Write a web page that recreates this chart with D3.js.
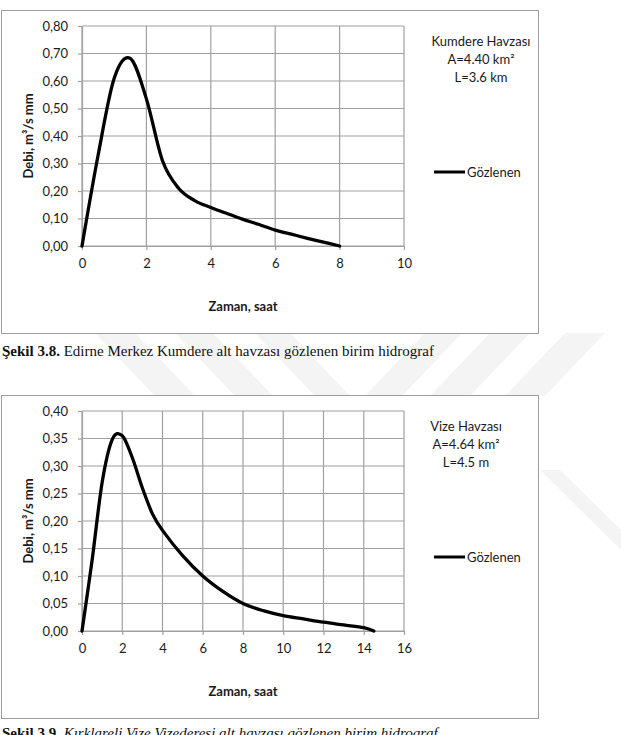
<!DOCTYPE html>
<html>
<head>
<meta charset="utf-8">
<script src="https://cdn.jsdelivr.net/npm/d3@7"></script>
<style>
  body { margin: 0; background: #fff; }
  svg { display: block; }
</style>
</head>
<body>
<div id="container"></div>
<script>
const WIDTH = 621;
const HEIGHT = 735;
const GRID = "#a0a0a0";
const SANS = "Lato, 'Noto Sans', sans-serif";
const SERIF = "'Liberation Serif', 'DejaVu Serif', serif";

// Kumdere
var kumTime = [0, 0.5, 1, 1.5, 2, 2.5, 3, 3.5, 4, 4.5, 5, 5.5, 6, 6.5, 7, 7.5, 8];
var kumQ = [0, 0.33, 0.61, 0.682, 0.535, 0.31, 0.21, 0.165, 0.14, 0.118, 0.097, 0.078, 0.058, 0.043, 0.028, 0.014, 0];
var kumXTicks = [0, 2, 4, 6, 8, 10];
var kumYTicks = [0, 0.1, 0.2, 0.3, 0.4, 0.5, 0.6, 0.7, 0.8];
var kumNote = ["Kumdere Havzası", "A=4.40 km²", "L=3.6 km"];

// Vize
var vizeTime = [0, 0.5, 1, 1.5, 2, 2.5, 3, 3.5, 4, 5, 6, 7, 8, 9, 10, 11, 12, 13, 14, 14.5];
var vizeQ = [0, 0.128, 0.27, 0.348, 0.355, 0.315, 0.26, 0.213, 0.183, 0.137, 0.10, 0.072, 0.05, 0.037, 0.028, 0.022, 0.016, 0.011, 0.006, 0];
var vizeXTicks = [0, 2, 4, 6, 8, 10, 12, 14, 16];
var vizeYTicks = [0, 0.05, 0.1, 0.15, 0.2, 0.25, 0.3, 0.35, 0.4];
var vizeNote = ["Vize Havzası", "A=4.64 km²", "L=4.5 m"];

var seriesName = "Gözlenen";
var xTitle = "Zaman, saat";
var yTitle = "Debi, m³/s mm";
var captions = [
    {bold: "Şekil 3.8.", text: " Edirne Merkez Kumdere alt havzası gözlenen birim hidrograf", italic: false},
    {bold: "Şekil 3.9.", text: " Kırklareli Vize Vizederesi alt havzası gözlenen birim hidrograf", italic: true}
];

var trFormat = d3.formatLocale({decimal: ",", thousands: ".", grouping: [3], currency: ["", "₺"]}).format(".2f");

var SVG = d3.select("#container").append("svg")
    .attr("width", WIDTH)
    .attr("height", HEIGHT);

// faint watermark stripes behind the boxes
var stripes = [
    [[95, 333], [135, 333], [195, 396], [155, 396]],
    [[175, 333], [213, 333], [273, 396], [235, 396]],
    [[255, 333], [290, 333], [350, 396], [315, 396]],
    [[425, 333], [462, 333], [402, 396], [365, 396]],
    [[490, 333], [530, 333], [470, 396], [430, 396]],
    [[565, 333], [605, 333], [545, 396], [505, 396]],
    [[540, 470], [560, 470], [621, 530], [621, 550]]
];
SVG.selectAll(".wm").data(stripes).enter().append("polygon")
    .attr("class", "wm")
    .attr("points", d => d.map(p => p.join(",")).join(" "))
    .attr("fill", "#f4f4f4");

var drawChart = function (top, time, q, xTicks, yTicks, note, caption, captionY) {
    var box = {x: 1.5, y: top + 0.5, w: 537, h: 323};
    var plot = {left: 82, right: 404, top: top + 16, bottom: top + 236};

    var g = SVG.append("g");
    g.append("rect")
        .attr("x", box.x).attr("y", box.y)
        .attr("width", box.w).attr("height", box.h)
        .attr("fill", "#fff")
        .attr("stroke", "#9d9d9d");

    var x = d3.scaleLinear().domain([xTicks[0], xTicks[xTicks.length - 1]]).range([plot.left, plot.right]);
    var y = d3.scaleLinear().domain([yTicks[0], yTicks[yTicks.length - 1]]).range([plot.bottom, plot.top]);

    g.append("g").selectAll("line").data(yTicks).enter().append("line")
        .attr("x1", plot.left).attr("x2", plot.right)
        .attr("y1", d => y(d)).attr("y2", d => y(d))
        .attr("stroke", GRID).attr("stroke-width", 1.2);
    g.append("g").selectAll("line").data(xTicks).enter().append("line")
        .attr("y1", plot.top).attr("y2", plot.bottom)
        .attr("x1", d => x(d)).attr("x2", d => x(d))
        .attr("stroke", GRID).attr("stroke-width", 1.2);

    var yAxis = g.append("g")
        .attr("transform", "translate(" + plot.left + ",0)")
        .call(d3.axisLeft(y).tickValues(yTicks).tickFormat(trFormat).tickSize(4).tickSizeOuter(0).tickPadding(10));
    var xAxis = g.append("g")
        .attr("transform", "translate(0," + plot.bottom + ")")
        .call(d3.axisBottom(x).tickValues(xTicks).tickFormat(d3.format("d")).tickSize(4).tickSizeOuter(0).tickPadding(9));
    [yAxis, xAxis].forEach(function (a) {
        a.selectAll("path, line").attr("stroke", GRID).attr("stroke-width", 1.2);
        a.selectAll("text").attr("fill", "#1a1a1a").style("font-family", SANS).style("font-size", "13px");
    });

    var line = d3.line()
        .x((d, i) => x(time[i]))
        .y(d => y(d))
        .curve(d3.curveCatmullRom.alpha(0));
    g.append("path")
        .datum(q)
        .attr("d", line)
        .attr("fill", "none")
        .attr("stroke", "#000")
        .attr("stroke-width", 3.3)
        .attr("stroke-linejoin", "round")
        .attr("stroke-linecap", "round");

    g.append("text")
        .attr("x", (plot.left + plot.right) / 2)
        .attr("y", top + 301)
        .attr("text-anchor", "middle")
        .style("font-family", SANS).style("font-size", "13px").style("font-weight", "bold")
        .attr("fill", "#1a1a1a")
        .text(xTitle);
    g.append("text")
        .attr("transform", "translate(33," + (plot.top + plot.bottom) / 2 + ") rotate(-90)")
        .attr("text-anchor", "middle")
        .style("font-family", SANS).style("font-size", "13px").style("font-weight", "bold")
        .attr("fill", "#1a1a1a")
        .text(yTitle);

    g.append("g").selectAll("text").data(note).enter().append("text")
        .attr("x", top < 100 ? 481 : 466)
        .attr("y", (d, i) => top + 36 + i * 18)
        .attr("text-anchor", "middle")
        .style("font-family", SANS).style("font-size", "13px")
        .attr("fill", "#1a1a1a")
        .text(d => d);

    var ly = top + 162;
    g.append("line")
        .attr("x1", 434).attr("x2", 465)
        .attr("y1", ly).attr("y2", ly)
        .attr("stroke", "#000").attr("stroke-width", 3);
    g.append("text")
        .attr("x", 467).attr("y", ly + 4.5)
        .style("font-family", SANS).style("font-size", "13px")
        .attr("fill", "#1a1a1a")
        .text(seriesName);

    var c = SVG.append("text")
        .attr("x", 2).attr("y", captionY)
        .style("font-family", SERIF).style("font-size", "15px")
        .attr("fill", "#111");
    c.append("tspan").style("font-weight", "bold").text(caption.bold);
    c.append("tspan").style("font-style", caption.italic ? "italic" : "normal").text(caption.text);
};

drawChart(10, kumTime, kumQ, kumXTicks, kumYTicks, kumNote, captions[0], 356);
drawChart(395, vizeTime, vizeQ, vizeXTicks, vizeYTicks, vizeNote, captions[1], 738);
</script>
</body>
</html>
